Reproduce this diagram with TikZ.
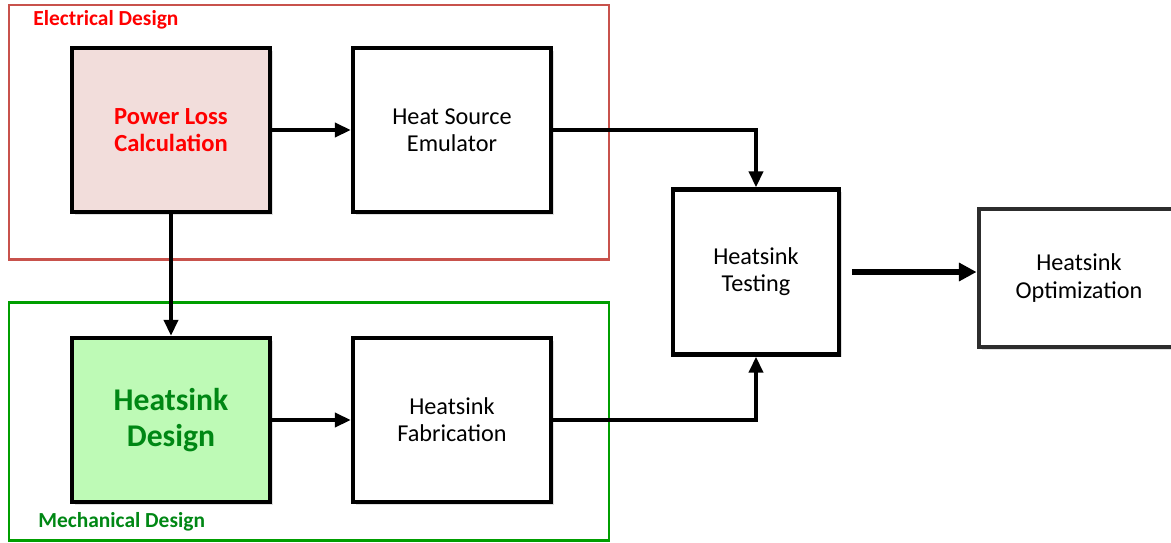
\documentclass[tikz,border=0pt]{standalone}
\usepackage{fontspec}
\setmainfont{Carlito}
\usetikzlibrary{arrows.meta,shadows}

\definecolor{elecframe}{RGB}{200,82,76}
\definecolor{mechframe}{RGB}{0,158,0}
\definecolor{lossfill}{RGB}{242,221,219}
\definecolor{designfill}{RGB}{190,250,182}
\definecolor{designtext}{RGB}{0,135,20}
\definecolor{optline}{RGB}{45,45,45}

\tikzset{
  block/.style={draw=black, line width=2.6pt, fill=white, align=center,
    minimum width=3.96cm, minimum height=3.28cm, inner sep=0pt,
    font=\fontsize{13.8pt}{15.5pt}\selectfont,
    drop shadow={shadow xshift=1.5pt, shadow yshift=-1.5pt, opacity=0.25}},
  link/.style={line width=2pt, -{Triangle[length=9pt,width=8pt]}},
  biglink/.style={line width=3pt, -{Triangle[length=10pt,width=10pt]}},
  grouplabel/.style={anchor=west, inner sep=0pt, font=\fontsize{12.2pt}{14pt}\selectfont\bfseries}
}

\begin{document}
\begin{tikzpicture}[x=0.02cm, y=-0.02cm]
  \useasboundingbox (0,0) rectangle (1171,542);

  % group frames
  \draw[elecframe, line width=1.7pt] (9,5) rectangle (609,259);
  \draw[mechframe, line width=1.7pt] (9,302) rectangle (609,540);
  \node[grouplabel, text=red] (elec) at (33,20) {Electrical Design};
  \node[grouplabel, text=designtext] (mech) at (38,522) {Mechanical Design};

  % blocks
  \node[block, fill=lossfill, text=red, font=\fontsize{14pt}{15.5pt}\selectfont\bfseries] (loss) at (171,130) {Power Loss\\Calculation};
  \node[block] (emul) at (452,130) {Heat Source\\Emulator};
  \node[block, fill=designfill, text=designtext, font=\fontsize{18pt}{20.5pt}\selectfont\bfseries] (hsd) at (171,420) {Heatsink\\Design};
  \node[block] (fab) at (452,420) {Heatsink\\Fabrication};
  \node[block, minimum width=3.32cm, minimum height=3.3cm] (test) at (756,272) {Heatsink\\Testing};
  \node[block, draw=optline, line width=2.8pt, drop shadow={opacity=0}, minimum width=4cm, minimum height=2.76cm] (opt) at (1079,278) {Heatsink\\Optimization};

  % connections
  \draw[link] (loss) -- (emul);
  \draw[link] (loss) -- (hsd);
  \draw[link] (hsd) -- (fab);
  \draw[link] (emul.east) -| (test.north);
  \draw[link] (fab.east) -| (test.south);
  \draw[biglink, shorten <=6pt] (test.east) -- (test.east -| opt.west);
\end{tikzpicture}
\end{document}
